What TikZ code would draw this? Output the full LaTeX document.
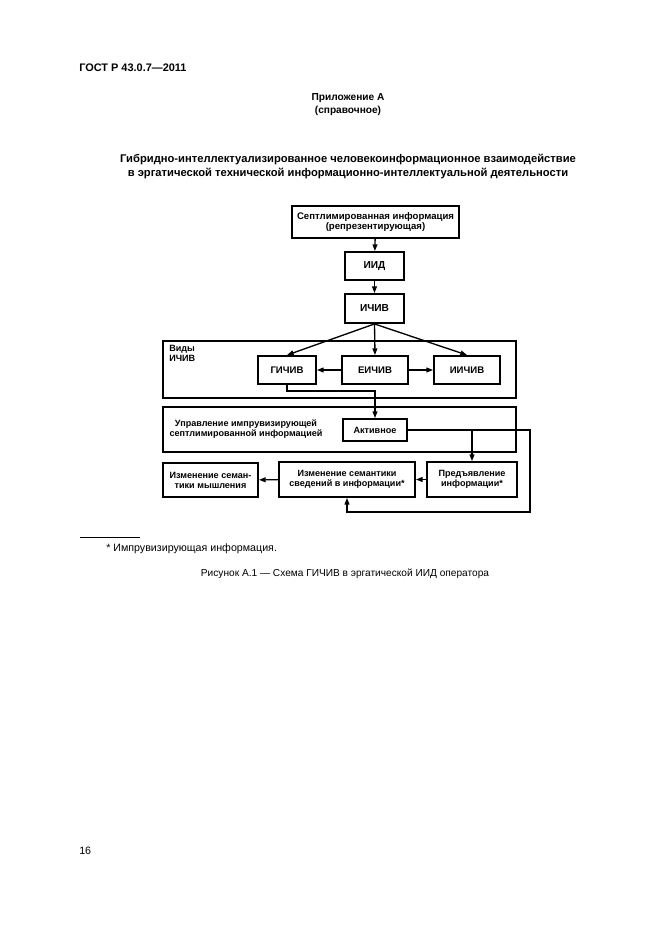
\documentclass[tikz,border=0pt]{standalone}
\usepackage{fontspec}
\setmainfont{Liberation Sans}
\usetikzlibrary{arrows.meta, positioning, calc}

\begin{document}
\begin{tikzpicture}[
    x=0.75pt, y=-0.75pt,
    box/.style={draw, line width=1.4pt, align=center, inner sep=1pt, font=\fontsize{6.8}{7.6}\selectfont\bfseries},
    frame/.style={draw, line width=1.5pt, minimum width=264.75pt, inner sep=0pt},
    flow/.style={-{Triangle[length=5pt, width=3.6pt]}, line width=1pt},
    line/.style={line width=1pt},
    page/.style={inner sep=0pt, font=\fontsize{8}{9.6}\selectfont}
]
    \useasboundingbox (0,0) rectangle (661,935);

    % Page text
    \node[page, anchor=west, font=\fontsize{8.2}{9.8}\selectfont\bfseries] (gost) at (79,68) {ГОСТ Р 43.0.7—2011};
    \node[page, align=center, font=\fontsize{7.6}{9.8}\selectfont\bfseries] (annex) at (348,104.5) {Приложение А\\(справочное)};
    \node[page, align=center, font=\fontsize{8.4}{11.2}\selectfont\bfseries] (title) at (348,166.5) {Гибридно-интеллектуализированное человекоинформационное взаимодействие\\в эргатической технической информационно-интеллектуальной деятельности};

    % Top chain
    \node[box, minimum width=125.25pt, minimum height=24pt, font=\fontsize{7.2}{8}\selectfont\bfseries] (sept) at (375.5,222) {Септлимированная информация\\(репрезентирующая)};
    \node[box, minimum width=44.25pt, minimum height=21pt, font=\fontsize{7.6}{8.8}\selectfont\bfseries] (iid) at (374.5,266) {ИИД};
    \node[box, minimum width=44.25pt, minimum height=21.75pt, font=\fontsize{7.6}{8.8}\selectfont\bfseries] (ichiv) at (374.5,308.5) {ИЧИВ};

    % Kinds
    \node[frame, minimum height=42.75pt] (vidy) at (339.5,369.5) {};
    \node[box, draw=none, anchor=north west, align=left] (vidylbl) at (167,343) {Виды\\ИЧИВ};
    \node[box, minimum width=43.5pt, minimum height=21pt, font=\fontsize{7.2}{8.4}\selectfont\bfseries] (gichiv) at (287,370) {ГИЧИВ};
    \node[box, minimum width=49.5pt, minimum height=21pt, font=\fontsize{7.2}{8.4}\selectfont\bfseries] (eichiv) at (375,370) {ЕИЧИВ};
    \node[box, minimum width=49.5pt, minimum height=21pt, font=\fontsize{7.2}{8.4}\selectfont\bfseries] (iichiv) at (467,370) {ИИЧИВ};

    % Control
    \node[frame, minimum height=33.75pt] (upr) at (339.5,429.5) {};
    \node[box, draw=none] (uprlbl) at (246,429) {Управление импрувизирующей\\септлимированной информацией};
    \node[box, minimum width=48pt, minimum height=16.5pt] (aktiv) at (375,430) {Активное};

    % Bottom row
    \node[box, minimum width=71.25pt, minimum height=25.5pt] (izmmysl) at (210.5,480) {Изменение семан-\\тики мышления};
    \node[box, minimum width=102pt, minimum height=26.25pt] (izmsved) at (347,479.5) {Изменение семантики\\сведений в информации*};
    \node[box, minimum width=67.5pt, minimum height=26.25pt] (predj) at (472,479.5) {Предъявление\\информации*};

    % Flows
    \draw[flow] (sept) -- (iid);
    \draw[flow] (iid) -- (ichiv);
    \draw[flow] (ichiv.south) -- (gichiv.north);
    \draw[flow] (ichiv.south) -- (eichiv.north);
    \draw[flow] (ichiv.south) -- (iichiv.north);
    \draw[flow] (eichiv) -- (gichiv);
    \draw[flow] (eichiv) -- (iichiv);
    \coordinate (gbend) at (287,391);
    \draw[flow] (gichiv.south) -- (gbend) -| (aktiv.north);
    \coordinate (loop) at (530,512);
    \draw[flow] (aktiv.east) -| (loop) -| (izmsved.south);
    \draw[flow] (predj.north |- aktiv.east) -- (predj.north);
    \draw[flow] (predj) -- (izmsved);
    \draw[flow] (izmsved) -- (izmmysl);

    % Footnote and caption
    \draw[line width=0.6pt] (80,537) -- (140,537);
    \node[page, anchor=west] (note) at (106,549) {* Импрувизирующая информация.};
    \node[page, font=\fontsize{7.6}{9.2}\selectfont] (caption) at (345,574) {Рисунок А.1 — Схема ГИЧИВ в эргатической ИИД оператора};
    \node[page, anchor=west] (pagenum) at (79,851) {16};
\end{tikzpicture}
\end{document}
